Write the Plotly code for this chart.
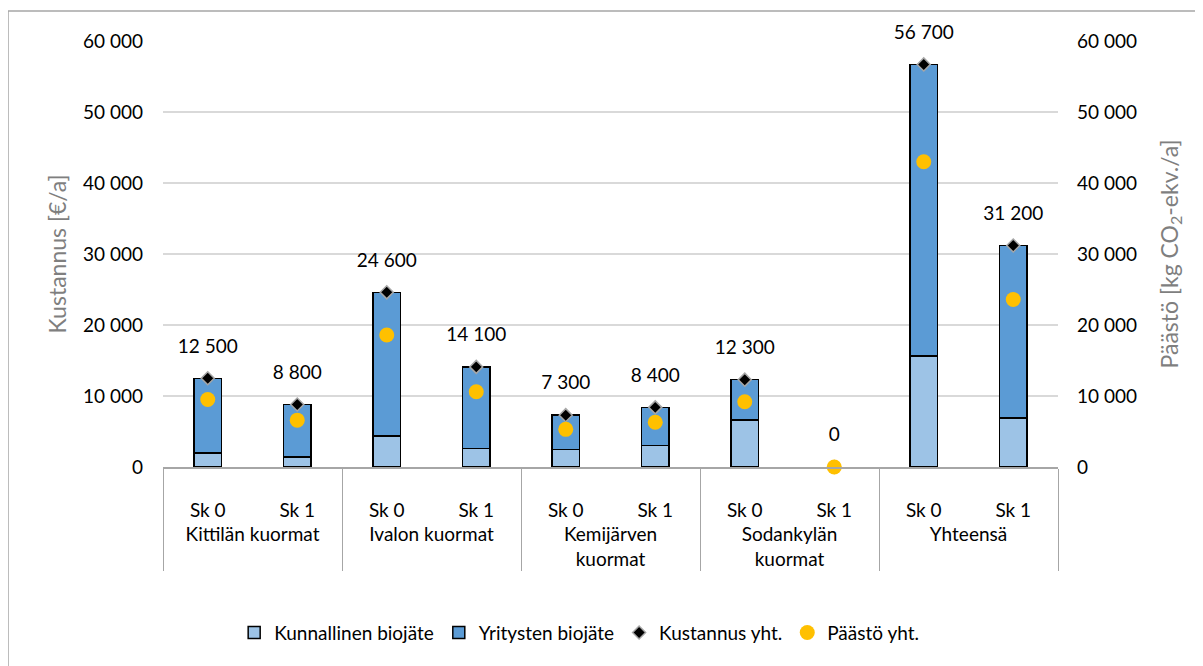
import plotly.graph_objects as go

ryhmat = ["Kittilän kuormat", "Kittilän kuormat", "Ivalon kuormat", "Ivalon kuormat",
          "Kemijärven<br>kuormat", "Kemijärven<br>kuormat", "Sodankylän<br>kuormat", "Sodankylän<br>kuormat",
          "Yhteensä", "Yhteensä"]
skenaariot = ["Sk 0", "Sk 1"] * 5

kunnallinen = [2000, 1400, 4400, 2600, 2500, 3000, 6600, 0, 15600, 6900]
yritysten = [10500, 7400, 20200, 11500, 4800, 5400, 5700, 0, 41100, 24300]
kustannus = [12500, 8800, 24600, 14100, 7300, 8400, 12300, 0, 56700, 31200]
paasto = [9500, 6600, 18600, 10600, 5300, 6300, 9200, 0, 43000, 23600]

# invisible spacer line before group names -> more room between the two label rows
tyhja = "<span style='color:rgba(0,0,0,0)'>.</span><br>"
x = [[tyhja + r for r in ryhmat], skenaariot]
tekstit = [f"{v:,}".replace(",", " ") for v in kustannus]

def reunat(arvot):
    return [1.5 if v > 0 else 0 for v in arvot]

fig = go.Figure()
fig.add_trace(go.Bar(x=x, y=kunnallinen, name="Kunnallinen biojäte",
                     marker=dict(color="#9DC3E6", line=dict(color="black", width=reunat(kunnallinen)))))
fig.add_trace(go.Bar(x=x, y=yritysten, name="Yritysten biojäte",
                     marker=dict(color="#5B9BD5", line=dict(color="black", width=reunat(yritysten)))))
fig.add_trace(go.Scatter(x=x, y=kustannus, name="Kustannus yht.", mode="markers",
                         marker=dict(symbol="diamond", size=10, color="black",
                                     line=dict(color="#A6A6A6", width=1.5)),
                         cliponaxis=False))
fig.add_trace(go.Scatter(x=x, y=paasto, name="Päästö yht.", mode="markers", yaxis="y2",
                         marker=dict(symbol="circle", size=15, color="#FFC000"),
                         cliponaxis=False))
# data labels above the cost markers
fig.add_trace(go.Scatter(x=x, y=kustannus, mode="markers+text", text=tekstit,
                         textposition="top center", textfont=dict(size=19, color="black"),
                         marker=dict(size=32, opacity=0), showlegend=False, hoverinfo="skip",
                         cliponaxis=False))

fig.update_layout(
    barmode="stack",
    bargap=0.69,
    width=1203, height=666,
    margin=dict(l=155, r=153, t=33, b=207),
    paper_bgcolor="white", plot_bgcolor="white",
    separators=", ",
    font=dict(family="Lato, Open Sans, sans-serif", size=19, color="black"),
    showlegend=True,
    legend=dict(orientation="h", x=0.465, xanchor="center", y=-0.389, yanchor="middle",
                font=dict(size=19), traceorder="normal", itemwidth=30),
    xaxis=dict(type="multicategory", range=[-0.5, 9.5], showdividers=True, dividercolor="#A6A6A6",
               dividerwidth=1, showline=True, linecolor="#A6A6A6", linewidth=1.5, tickfont=dict(size=19),
               ticklabelstandoff=25, automargin=False),
    yaxis=dict(range=[0, 60000], dtick=10000, tickformat=",d", showgrid=True, gridcolor="#D9D9D9",
               gridwidth=1.5, zeroline=False, ticks="", tickfont=dict(size=19), ticklabelstandoff=19,
               automargin=False,
               title=dict(text="Kustannus [€/a]", font=dict(size=23, color="#7F7F7F"), standoff=9)),
    yaxis2=dict(range=[0, 60000], dtick=10000, tickformat=",d", overlaying="y", side="right",
                showgrid=False, zeroline=False, ticks="", tickfont=dict(size=19), ticklabelstandoff=18,
                automargin=False,
                title=dict(text="Päästö [kg CO<sub>2</sub>-ekv./a]", font=dict(size=23, color="#7F7F7F"),
                           standoff=25)),
)

# chart area border (left and top edges visible)
ylaraja = 456 / 426
vasen = -155 / 895
fig.add_shape(type="line", xref="paper", yref="paper", x0=vasen, x1=1.3, y0=ylaraja, y1=ylaraja,
              line=dict(color="#A6A6A6", width=1.5))
fig.add_shape(type="line", xref="paper", yref="paper", x0=vasen, x1=vasen, y0=ylaraja, y1=-0.6,
              line=dict(color="#A6A6A6", width=1.5))

fig.write_html("out.html")
